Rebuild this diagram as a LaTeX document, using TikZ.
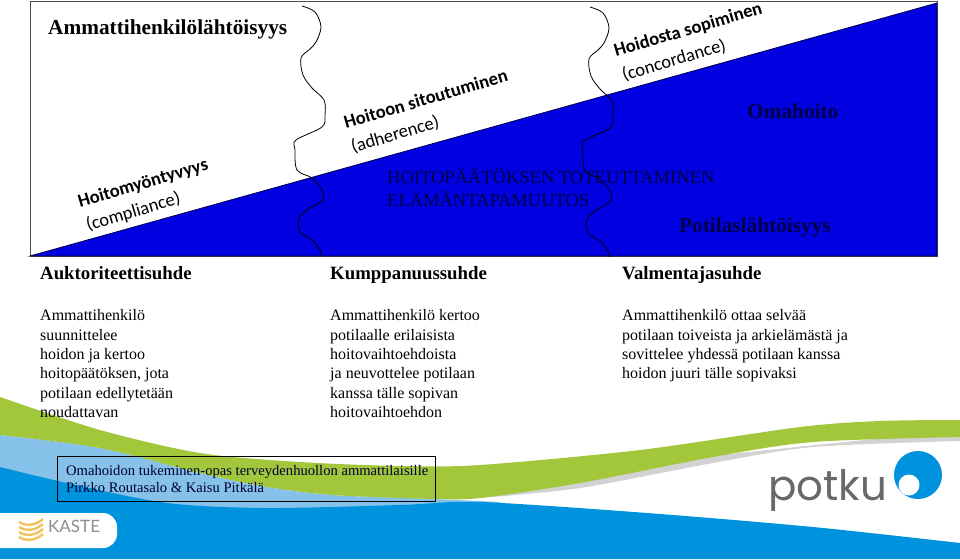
\documentclass[tikz,border=0pt]{standalone}
\usepackage{fontspec}
\setmainfont{Liberation Serif}
\newfontfamily\calibrifont{Carlito}
\newfontfamily\logofont{Lato}
\newfontfamily\potkufont{Poppins}
\usepackage{xcolor}
\definecolor{wedgeblue}{RGB}{0,0,224}
\definecolor{deepink}{RGB}{0,0,70}
\definecolor{kastegreen}{RGB}{162,199,59}
\definecolor{kastesky}{RGB}{133,193,233}
\definecolor{kasteblue}{RGB}{0,147,221}
\definecolor{logogray}{RGB}{105,105,105}
\definecolor{logoyellow}{RGB}{240,196,90}
\tikzset{
  bodytext/.style={anchor=north west, inner sep=0pt, align=left, font=\fontsize{16}{19.3}\selectfont},
  headtext/.style={anchor=base west, inner sep=0pt, font=\fontsize{18.8}{22}\selectfont\bfseries},
  wedgetext/.style={anchor=base west, inner sep=0pt, text=deepink, font=\fontsize{21.3}{24}\selectfont\bfseries},
  phasebold/.style={anchor=base west, inner sep=0pt, rotate=16.5, font=\fontsize{18.5}{22}\selectfont\calibrifont\bfseries},
  phaselight/.style={anchor=base west, inner sep=0pt, rotate=16.5, font=\fontsize{18.5}{22}\selectfont\calibrifont},
  wavyline/.style={line width=0.8pt, black},
}
\begin{document}
\begin{tikzpicture}[x=1pt,y=-1pt]
  \useasboundingbox (0,0) rectangle (960,559);
  \fill[white] (0,0) rectangle (960,559);
  % swooshes at the bottom
  \fill[kastesky] plot[smooth] coordinates {(0,435) (100,448) (200,473) (267,487) (333,495) (433,499) (500,502)}
    -- (500,510) -- (0,510) -- cycle;
  \fill[gray!35] plot[smooth] coordinates {(480,498) (580,488) (713,463) (813,447) (960,441)}
    -- (960,430) -- (480,480) -- cycle;
  \fill[kastegreen] plot[smooth] coordinates {(0,397) (100,430) (200,453) (300,462) (400,466) (480,465) (640,450) (800,427) (880,421) (960,420)}
    -- plot[smooth] coordinates {(960,437) (813,442) (713,457) (580,483) (480,498) (433,499) (333,495) (267,487) (200,473) (100,448) (0,435)}
    -- cycle;
  \fill[kasteblue] plot[smooth] coordinates {(0,467) (67,483) (167,503) (267,508) (400,505) (480,502) (647,513) (813,527) (960,543)}
    -- (960,559) -- (0,559) -- cycle;
  % the big wedge
  \draw[gray!60!black, line width=1pt] (30,2) rectangle (937,256);
  \fill[wedgeblue] (30,256) -- (937,3) -- (937,256) -- cycle;
  \draw[black!70!blue, line width=0.8pt] (30,256) -- (937,3) -- (937,256) -- cycle;
  % the two wavy borders
  \foreach \dx/\dy in {0/0,288/-1}
    \draw[wavyline, shift={(\dx,-\dy)}] plot[smooth, tension=0.55] coordinates {(302,6) (315,12) (321,27) (316,42) (310,49) (301,58) (303,75) (312,88) (324,100) (325,115) (322,127) (296,140) (295,150) (297,170) (312,178) (322,190) (323,200) (310,208) (299,218) (300,232) (312,240) (320,250) (321,256)};
  % texts in the wedge
  \node[anchor=base west, inner sep=0pt, font=\fontsize{21.3}{24}\selectfont\bfseries] (ammattilabel) at (48,35) {Ammattihenkilölähtöisyys};
  \node[wedgetext] (omahoitolabel) at (747,118) {Omahoito};
  \node[wedgetext] (potilaslabel) at (679,232) {Potilaslähtöisyys};
  \node[anchor=base west, inner sep=0pt, text=deepink, font=\fontsize{18.5}{22}\selectfont] (toteutuslabel) at (387,183) {HOITOPÄÄTÖKSEN TOTEUTTAMINEN};
  \node[anchor=base west, inner sep=0pt, text=deepink, font=\fontsize{18.5}{22}\selectfont] (muutoslabel) at (387,206) {ELÄMÄNTAPAMUUTOS};
  \node[phasebold] (myontyvyys) at (80,208) {Hoitomyöntyvyys};
  \node[phaselight] (compliance) at (88,231) {(compliance)};
  \node[phasebold] (sitoutuminen) at (346,129) {Hoitoon sitoutuminen};
  \node[phaselight] (adherence) at (353,153) {(adherence)};
  \node[phasebold] (sopiminen) at (616,57) {Hoidosta sopiminen};
  \node[phaselight] (concordance) at (624,81) {(concordance)};
  % the three columns
  \node[headtext] (auktoriteetti) at (40,279) {Auktoriteettisuhde};
  \node[headtext] (kumppanuus) at (330,279) {Kumppanuussuhde};
  \node[headtext] (valmentaja) at (622,279) {Valmentajasuhde};
  \node[bodytext] (auktoriteettitext) at (40,309.5) {Ammattihenkilö\\suunnittelee\\hoidon ja kertoo\\hoitopäätöksen, jota\\potilaan edellytetään\\noudattavan};
  \node[bodytext] (kumppanuustext) at (330,309.5) {Ammattihenkilö kertoo\\potilaalle erilaisista\\hoitovaihtoehdoista\\ja neuvottelee potilaan\\kanssa tälle sopivan\\hoitovaihtoehdon};
  \node[bodytext] (valmentajatext) at (622,309.5) {Ammattihenkilö ottaa selvää\\potilaan toiveista ja arkielämästä ja\\sovittelee yhdessä potilaan kanssa\\hoidon juuri tälle sopivaksi};
  % source box
  \node[draw=black, line width=1.3pt, minimum width=378pt, minimum height=45pt, anchor=north west] (sourcebox) at (57,456) {};
  \node[bodytext, text=black!80!blue, font=\fontsize{14.6}{17.5}\selectfont] (sourcetext) at (66,465) {Omahoidon tukeminen-opas terveydenhuollon ammattilaisille\\Pirkko Routasalo \& Kaisu Pitkälä};
  % logos
  \fill[white, rounded corners=14pt] (-30,513) rectangle (117,548);
  \foreach \dy in {0,5,10,15}
    \draw[logoyellow, line width=2.4pt] (19,522+\dy) .. controls (27,527+\dy) and (36,525+\dy) .. (43,519+\dy);
  \node[anchor=base west, inner sep=0pt, text=logogray!75, font=\fontsize{17}{20}\selectfont\logofont] (kastelabel) at (48,532) {KASTE};
  \node[anchor=base west, inner sep=0pt, text=logogray, font=\fontsize{42}{46}\selectfont\potkufont] (potkulabel) at (768,500) {potku};
  \fill[kasteblue] (918,475) circle[radius=24];
  \fill[white] (909,485) circle[radius=10.5];
\end{tikzpicture}
\end{document}
